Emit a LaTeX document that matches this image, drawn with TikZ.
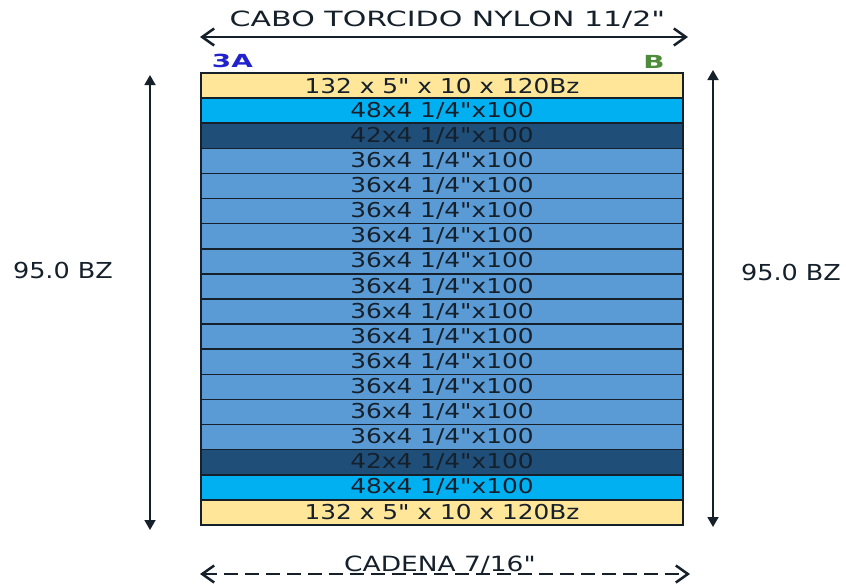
\documentclass[tikz,border=0pt]{standalone}
\usepackage{fontspec}
\setmainfont{DejaVu Sans}
\newfontfamily\widefont[FakeStretch=1.21]{DejaVu Sans}
\newfontfamily\ropefont[FakeStretch=1.43]{DejaVu Sans}
\newfontfamily\chainfont[FakeStretch=1.26]{DejaVu Sans}
\newfontfamily\dimfont[FakeStretch=1.16]{DejaVu Sans}
\newfontfamily\sidefont[FakeStretch=1.55]{DejaVu Sans Bold}
\usetikzlibrary{arrows.meta,positioning}
\definecolor{netsand}{HTML}{FFE699}
\definecolor{netcyan}{HTML}{00B0F0}
\definecolor{netnavy}{HTML}{1F4E79}
\definecolor{netblue}{HTML}{5B9BD5}
\definecolor{netink}{HTML}{15202B}
\definecolor{sidea}{HTML}{2222CC}
\definecolor{sideb}{HTML}{4E8B3A}
\tikzset{
  panel/.style={
    draw=netink,
    line width=1.6pt,
    minimum width=482pt,
    minimum height=25.11pt,
    inner sep=0pt,
    outer sep=0pt,
    text=netink,
    font=\widefont\fontsize{20.5}{22}\selectfont
  },
  sandpanel/.style={panel, fill=netsand},
  cyanpanel/.style={panel, fill=netcyan},
  navypanel/.style={panel, fill=netnavy},
  bluepanel/.style={panel, fill=netblue},
  widthdim/.style={
    {Straight Barb[length=12pt,width=17pt]}-{Straight Barb[length=12pt,width=17pt]},
    line width=2.5pt,
    draw=netink
  },
  heightdim/.style={
    {Triangle[length=10pt,width=11pt]}-{Triangle[length=10pt,width=11pt]},
    line width=1.8pt,
    draw=netink
  },
  dimlabel/.style={text=netink, font=\dimfont\fontsize{22}{24}\selectfont},
  sidelabel/.style={font=\sidefont\fontsize{18}{20}\selectfont}
}

\begin{document}
\begin{tikzpicture}[x=1pt, y=-1pt, node distance=0pt]
\useasboundingbox (0,0) rectangle (846,584);
% net panels, top to bottom
\node[sandpanel] (r1) at (442,85.55) {132 x 5" x 10 x 120Bz};
\node[cyanpanel, below=of r1] (r2) {48x4 1/4"x100};
\node[navypanel, below=of r2] (r3) {42x4 1/4"x100};
\node[bluepanel, below=of r3] (r4) {36x4 1/4"x100};
\node[bluepanel, below=of r4] (r5) {36x4 1/4"x100};
\node[bluepanel, below=of r5] (r6) {36x4 1/4"x100};
\node[bluepanel, below=of r6] (r7) {36x4 1/4"x100};
\node[bluepanel, below=of r7] (r8) {36x4 1/4"x100};
\node[bluepanel, below=of r8] (r9) {36x4 1/4"x100};
\node[bluepanel, below=of r9] (r10) {36x4 1/4"x100};
\node[bluepanel, below=of r10] (r11) {36x4 1/4"x100};
\node[bluepanel, below=of r11] (r12) {36x4 1/4"x100};
\node[bluepanel, below=of r12] (r13) {36x4 1/4"x100};
\node[bluepanel, below=of r13] (r14) {36x4 1/4"x100};
\node[bluepanel, below=of r14] (r15) {36x4 1/4"x100};
\node[navypanel, below=of r15] (r16) {42x4 1/4"x100};
\node[cyanpanel, below=of r16] (r17) {48x4 1/4"x100};
\node[sandpanel, below=of r17] (r18) {132 x 5" x 10 x 120Bz};

% side marks
\node[sidelabel, text=sidea] (sa) at (232.5,61) {3A};
\node[sidelabel, text=sideb] (sb) at (654,62) {B};

% headrope
\coordinate (ropeL) at (200,37);
\coordinate (ropeR) at (688,37);
\draw[widthdim] (ropeL) -- (ropeR);
\node[text=netink, font=\ropefont\fontsize{21}{24}\selectfont] (rope) at (447.5,20) {CABO TORCIDO NYLON 11/2"};

% heights
\coordinate (leftT) at (150,75);
\coordinate (leftB) at (150,530);
\draw[heightdim] (leftT) -- (leftB);
\node[dimlabel] (hleft) at (63,270) {95.0 BZ};
\coordinate (rightT) at (713,70);
\coordinate (rightB) at (713,527);
\draw[heightdim] (rightT) -- (rightB);
\node[dimlabel] (hright) at (791,272) {95.0 BZ};

% footrope
\coordinate (chainL) at (200,574);
\coordinate (chainR) at (690,574);
\draw[widthdim, dash pattern=on 14pt off 7pt] (chainL) -- (chainR);
\node[text=netink, font=\chainfont\fontsize{21}{24}\selectfont] (chain) at (440,565) {CADENA 7/16"};
\end{tikzpicture}
\end{document}
